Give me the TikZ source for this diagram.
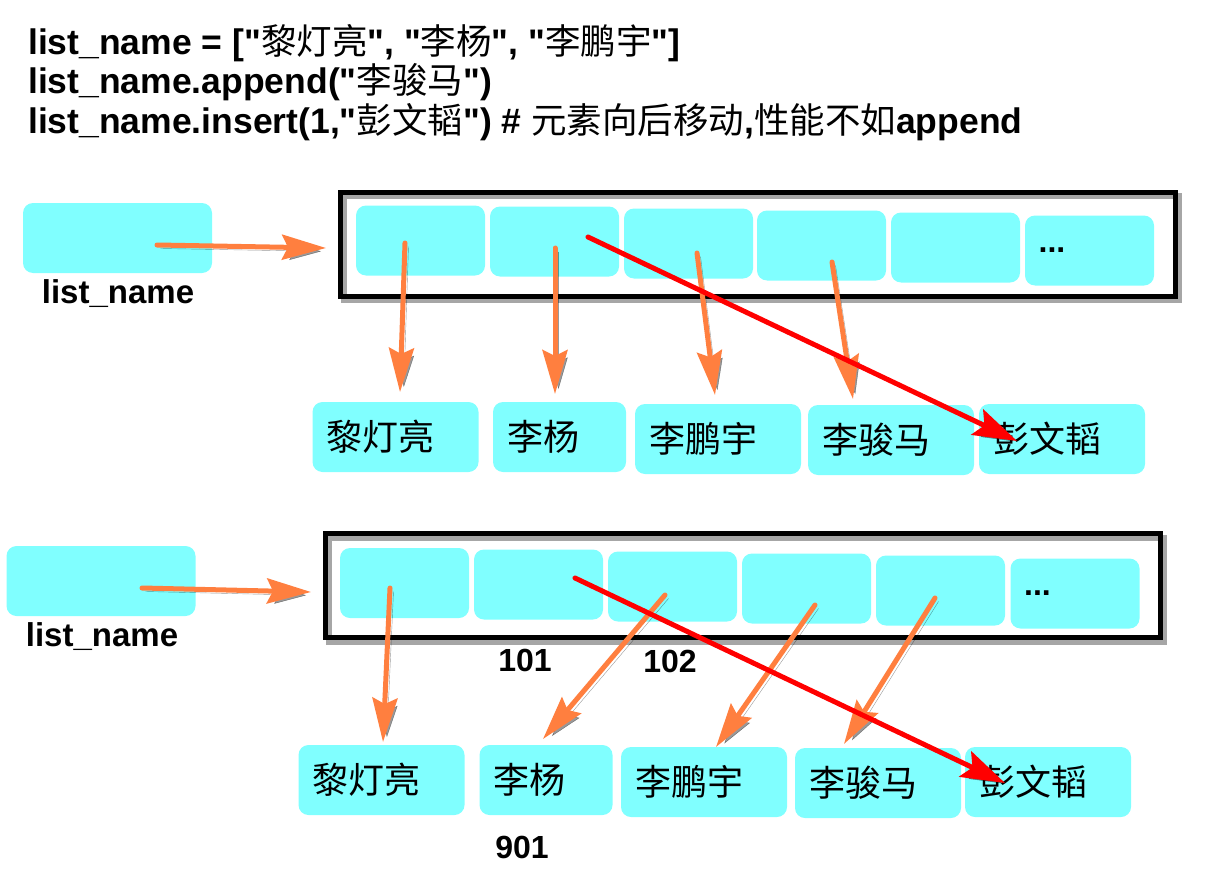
\documentclass[tikz,border=0pt]{standalone}
\usepackage{fontspec}
\setmainfont{Liberation Sans}[Ligatures=TeXOff]
\newfontfamily\cjk{Noto Sans CJK SC}
\newcommand\zh[1]{{\cjk\mdseries #1}}
\usetikzlibrary{arrows.meta,calc}
\definecolor{cellc}{HTML}{80FFFF}
\definecolor{arrc}{HTML}{FF7F3F}
\definecolor{redc}{HTML}{FF0000}
\tikzset{
  cell/.style={fill=cellc, rounded corners=10pt, minimum width=129pt, minimum height=70pt, inner sep=0pt, font=\fontsize{32}{36}\selectfont\bfseries},
  headbox/.style={fill=cellc, rounded corners=10pt, minimum width=189pt, minimum height=70pt, inner sep=0pt},
  namebox/.style={fill=cellc, rounded corners=10pt, minimum height=70pt, inner xsep=14pt, inner ysep=0pt, text width=#1, align=left, font=\fontsize{36}{40}\selectfont\cjk},
  namebox/.default=138pt,
  outerbox/.style={draw=black, line width=5pt, minimum width=835pt, minimum height=104pt, inner sep=0pt,
    preaction={draw=black, opacity=0.35, line width=6pt, transform canvas={shift={(4pt,-4pt)}}}},
  lbl/.style={font=\fontsize{33}{38}\selectfont\bfseries, inner sep=0pt},
  num/.style={font=\fontsize{32}{36}\selectfont\bfseries, inner sep=0pt},
  title/.style={anchor=base west, inner sep=0pt, font=\fontsize{35.5}{40}\selectfont\bfseries},
  shadowed/.style={preaction={draw=black, opacity=0.4, transform canvas={shift={(3.5pt,-3.5pt)}}}},
  oarrow/.style={draw=arrc, line width=5pt, line cap=round, -{Stealth[length=44pt,width=25pt,inset=6pt]}, shadowed},
  rarrow/.style={draw=redc, line width=5pt, line cap=round, -{Stealth[length=44pt,width=28pt,inset=8pt]}, shadowed},
}
\begin{document}
\begin{tikzpicture}[x=1pt,y=-1pt]
\useasboundingbox (0,0) rectangle (1220,888);
\fill[white] (0,0) rectangle (1220,888);

% title
\node[title] (t1) at (28,55) {list\_name = ["\zh{黎灯亮}", "\zh{李杨}", "\zh{李鹏宇}"]};
\node[title] (t2) at (28,94) {list\_name.append("\zh{李骏马}")};
\node[title] (t3) at (28,133) {list\_name.insert(1,"\zh{彭文韬}") \# \zh{元素向后移动},\zh{性能不如}append};

% ---------- top section ----------
\node[headbox] (h1) at (117.5,238) {};
\node[lbl] (l1) at (118,294) {list\_name};
\node[outerbox] (o1) at (757.5,244) {};
\node[cell] (a1) at (420.5,240.5) {};
\node[cell] (a2) at (554.5,241.5) {};
\node[cell] (a3) at (688.5,243.5) {};
\node[cell] (a4) at (821.5,245.5) {};
\node[cell] (a5) at (955.5,247.5) {};
\node[cell] (a6) at (1089.5,250.5) {\hspace*{-75pt}...};

\node[namebox] (n1) at (395.5,437) {黎灯亮};
\node[namebox=105pt] (n2) at (559.5,437) {李杨};
\node[namebox] (n3) at (718,439) {李鹏宇};
\node[namebox] (n4) at (891,440) {李骏马};
\node[namebox] (n5) at (1062,439) {彭文韬};

\coordinate (hs1) at (157,245);
\coordinate (he1) at (326,248);
\coordinate (as1) at (405,243);
\coordinate (ae1) at (400,392);
\coordinate (as2) at (555,248);
\coordinate (ae2) at (555,394);
\coordinate (as3) at (697,253);
\coordinate (ae3) at (715,395);
\coordinate (as4) at (832,262);
\coordinate (ae4) at (853,399);
\coordinate (rs1) at (588,237);
\coordinate (re1) at (1017,441);

\draw[oarrow] (hs1) -- (he1);
\draw[oarrow] (as1) -- (ae1);
\draw[oarrow] (as2) -- (ae2);
\draw[oarrow] (as3) -- (ae3);
\draw[oarrow] (as4) -- (ae4);
\draw[rarrow] (rs1) -- (re1);

% ---------- bottom section ----------
\node[headbox] (h2) at (101,581) {};
\node[lbl] (l2) at (102,637) {list\_name};
\node[outerbox] (o2) at (742.5,585.5) {};
\node[cell] (b1) at (404.5,583) {};
\node[cell] (b2) at (538.5,584.5) {};
\node[cell] (b3) at (672.5,586.5) {};
\node[cell] (b4) at (806.5,588.5) {};
\node[cell] (b5) at (940.5,590.5) {};
\node[cell] (b6) at (1075,593.5) {\hspace*{-75pt}...};

\node[num] (k1) at (525,660) {101};
\node[num] (k2) at (670,661) {102};
\node[num] (k3) at (522,847) {901};

\node[namebox] (m1) at (381.5,780) {黎灯亮};
\node[namebox=105pt] (m2) at (546,780) {李杨};
\node[namebox] (m3) at (704,782) {李鹏宇};
\node[namebox] (m4) at (878,783) {李骏马};
\node[namebox] (m5) at (1048,782) {彭文韬};

\coordinate (hs2) at (142,588);
\coordinate (he2) at (311,592);
\coordinate (bs1) at (390,588);
\coordinate (be1) at (383,742);
\coordinate (bs2) at (665,595);
\coordinate (be2) at (543,739);
\coordinate (bs3) at (815,605);
\coordinate (be3) at (716,747);
\coordinate (bs4) at (935,598);
\coordinate (be4) at (844,744);
\coordinate (rs2) at (575,578);
\coordinate (re2) at (1005,783);

\draw[oarrow] (hs2) -- (he2);
\draw[oarrow] (bs1) -- (be1);
\draw[oarrow] (bs2) -- (be2);
\draw[oarrow] (bs3) -- (be3);
\draw[oarrow] (bs4) -- (be4);
\draw[rarrow] (rs2) -- (re2);
\end{tikzpicture}
\end{document}
